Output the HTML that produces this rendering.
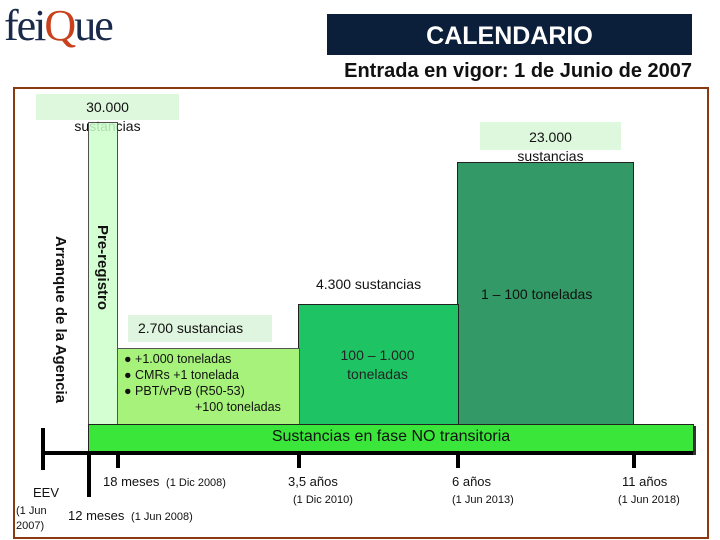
<!DOCTYPE html>
<html><head><meta charset="utf-8"><style>
body{margin:0;width:720px;height:540px;background:#fff;position:relative;overflow:hidden;font-family:"Liberation Sans",sans-serif}
.a{position:absolute}
.t{position:absolute;white-space:nowrap;color:#111}
</style></head><body>
<div class="a" style="left:4px;top:0px;font-family:'Liberation Serif',serif;font-size:44px;color:#1a2a4a;letter-spacing:-2px">fei<span style="color:#c8411c">Q</span>ue</div>
<div class="a" style="left:327px;top:14px;width:365px;height:41px;background:#0b1f3a;color:#fff;font-weight:bold;font-size:25px;text-align:center;line-height:44px">CALENDARIO</div>
<div class="t" style="right:28px;top:60px;font-weight:bold;font-size:20px">Entrada en vigor: 1 de Junio de 2007</div>
<div class="a" style="left:13px;top:87px;width:692px;height:448px;border:2px solid #8b3a10"></div>

<div class="a" style="left:36px;top:94px;width:143px;height:26px;background:#ddf8dd"></div>
<div class="t" style="left:36px;width:143px;top:98px;text-align:center;font-size:14px;line-height:19px">30.000<br>sustancias</div>
<div class="a" style="left:88px;top:122px;width:28px;height:302px;background:#ccffcc;border:1px solid #333;opacity:.85"></div>
<div class="t" style="left:94px;top:225px;writing-mode:vertical-rl;font-weight:bold;font-size:15px">Pre-registro</div>
<div class="t" style="left:52px;top:236px;writing-mode:vertical-rl;font-weight:bold;font-size:15px">Arranque de la Agencia</div>

<div class="a" style="left:480px;top:122px;width:141px;height:28px;background:#ddf8dd"></div>
<div class="t" style="left:480px;width:141px;top:128px;text-align:center;font-size:14px;line-height:19px">23.000<br>sustancias</div>
<div class="a" style="left:457px;top:162px;width:175px;height:262px;background:#339966;border:1px solid #222"></div>
<div class="t" style="left:481px;top:286px;font-size:14px">1 – 100 toneladas</div>

<div class="t" style="left:316px;top:276px;font-size:14px">4.300 sustancias</div>
<div class="a" style="left:298px;top:304px;width:159px;height:120px;background:#1ec463;border:1px solid #222"></div>
<div class="t" style="left:298px;width:159px;top:346px;text-align:center;font-size:14px;line-height:19px;color:#222">100 – 1.000<br>toneladas</div>

<div class="a" style="left:128px;top:315px;width:144px;height:27px;background:#dff5df"></div>
<div class="t" style="left:138px;top:320px;font-size:14px">2.700 sustancias</div>
<div class="a" style="left:117px;top:348px;width:181px;height:76px;background:#a6f27a;border:1px solid #555"></div>
<div class="t" style="left:124px;top:351px;font-size:12.5px;line-height:16px">● +1.000 toneladas<br>● CMRs +1 tonelada<br>● PBT/vPvB (R50-53)<br><span style="padding-left:71px">+100 toneladas</span></div>

<div class="a" style="left:88px;top:424px;width:604px;height:27px;background:#3ae63a;border:1px solid #222;box-shadow:2px 2px 0 #333"></div>
<div class="t" style="left:88px;width:606px;top:428px;text-align:center;font-size:16px">Sustancias en fase NO transitoria</div>

<div class="a" style="left:42px;top:451px;width:651px;height:4px;background:#000"></div>
<div class="a" style="left:41px;top:428px;width:4px;height:42px;background:#000"></div>
<div class="a" style="left:87px;top:451px;width:4px;height:46px;background:#000"></div>
<div class="a" style="left:116px;top:451px;width:4px;height:17px;background:#000"></div>
<div class="a" style="left:297px;top:451px;width:4px;height:17px;background:#000"></div>
<div class="a" style="left:456px;top:451px;width:4px;height:17px;background:#000"></div>
<div class="a" style="left:632px;top:451px;width:4px;height:17px;background:#000"></div>

<div class="t" style="left:103px;top:474px;font-size:13px">18 meses <span style="font-size:11px">&nbsp;(1 Dic 2008)</span></div>
<div class="t" style="left:288px;top:474px;font-size:13px">3,5 años</div>
<div class="t" style="left:293px;top:494px;font-size:11px">(1 Dic 2010)</div>
<div class="t" style="left:452px;top:474px;font-size:13px">6 años</div>
<div class="t" style="left:452px;top:494px;font-size:11px">(1 Jun 2013)</div>
<div class="t" style="left:622px;top:474px;font-size:13px">11 años</div>
<div class="t" style="left:618px;top:494px;font-size:11px">(1 Jun 2018)</div>
<div class="t" style="left:33px;top:485px;font-size:13px">EEV</div>
<div class="t" style="left:16px;top:504px;font-size:11px;line-height:15px">(1 Jun<br>2007)</div>
<div class="t" style="left:68px;top:508px;font-size:13px">12 meses <span style="font-size:11px">&nbsp;(1 Jun 2008)</span></div>
</body></html>
